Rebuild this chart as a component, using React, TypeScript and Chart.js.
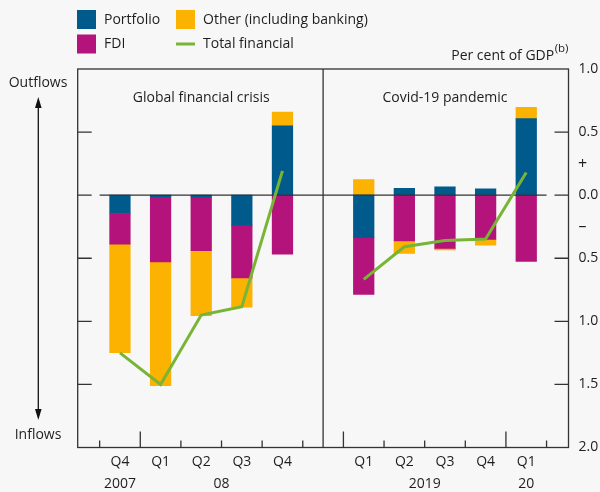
import React, { useEffect, useRef } from "react";
import { Chart, registerables } from "chart.js";

Chart.register(...registerables);

// ---- data ----
const xPositions = [1, 2, 3, 4, 5, 7, 8, 9, 10, 11];
const quarterLabels = ["Q4", "Q1", "Q2", "Q3", "Q4", "Q1", "Q2", "Q3", "Q4", "Q1"];
const yearLabels = ["2007", "08", "2019", "20"];
const yearPositions = [1, 3.5, 8.5, 11];
const portfolio = [-0.145, -0.012, -0.013, -0.238, 0.549, -0.335, 0.055, 0.066, 0.05, 0.607];
const fdi = [-0.243, -0.518, -0.427, -0.417, -0.467, -0.451, -0.362, -0.422, -0.351, -0.525];
const other = [-0.861, -0.98, -0.515, -0.232, 0.11, 0.124, -0.1, -0.011, -0.045, 0.09];
const totalFinancial = [-1.25, -1.5, -0.95, -0.884, 0.193, -0.668, -0.409, -0.359, -0.348, 0.18];
const panelTitles = ["Global financial crisis", "Covid-19 pandemic"];
const panelTitlePositions = [3, 9];
const yTickValues = [1, 0.5, 0, -0.5, -1, -1.5, -2];
const yTickLabels = ["1.0", "0.5", "0.0", "0.5", "1.0", "1.5", "2.0"];
const xMinorTicks = [0.5, 1.5, 2.5, 3.5, 4.5, 5.5, 6.5, 7.5, 8.5, 9.5, 10.5, 11.5];
const xMajorTicks = [1.5, 6.5, 10.5];

const COLORS = {
  portfolio: "#005a8c",
  fdi: "#b4137b",
  other: "#fbb200",
  total: "#78b536",
  text: "#1e1e1e",
  axis: "#333333",
  bg: "#f7f7f7",
};
const FONT = '"Open Sans", "Noto Sans", sans-serif';
const FS = 14;

const toXY = (vals: number[]) => vals.map((v, i) => ({ x: xPositions[i], y: v }));

const overlayPlugin = {
  id: "overlay",
  beforeDraw(chart: any) {
    const ctx = chart.ctx;
    ctx.save();
    ctx.fillStyle = COLORS.bg;
    ctx.fillRect(0, 0, chart.width, chart.height);
    ctx.restore();
  },
  afterDatasetDraw(chart: any, args: any) {
    if (args.index !== 0) return;
    const ctx = chart.ctx;
    const xs = chart.scales.x;
    const ys = chart.scales.y;
    ctx.save();
    ctx.strokeStyle = COLORS.axis;
    ctx.lineWidth = 1.3;
    ctx.beginPath();
    const y0 = ys.getPixelForValue(0);
    ctx.moveTo(xs.getPixelForValue(0.5), y0);
    ctx.lineTo(xs.getPixelForValue(11.5), y0);
    ctx.stroke();
    ctx.restore();
  },
  afterDraw(chart: any) {
    const ctx = chart.ctx;
    const xs = chart.scales.x;
    const ys = chart.scales.y;
    const area = chart.chartArea;
    ctx.save();
    // frame
    ctx.strokeStyle = COLORS.axis;
    ctx.lineWidth = 1.3;
    ctx.strokeRect(area.left, area.top, area.right - area.left, area.bottom - area.top);
    const xDiv = xs.getPixelForValue(6);
    ctx.beginPath();
    ctx.moveTo(xDiv, area.top);
    ctx.lineTo(xDiv, area.bottom);
    ctx.stroke();
    // y ticks (inward)
    ctx.beginPath();
    yTickValues.forEach((v) => {
      if (v === 1 || v === -2) return;
      const y = ys.getPixelForValue(v);
      ctx.moveTo(area.left, y);
      ctx.lineTo(area.left + 14, y);
      ctx.moveTo(area.right, y);
      ctx.lineTo(area.right - 14, y);
    });
    // x ticks
    xMinorTicks.forEach((p) => {
      const x = xs.getPixelForValue(p);
      const len = xMajorTicks.includes(p) ? 16 : 7;
      ctx.moveTo(x, area.bottom);
      ctx.lineTo(x, area.bottom - len);
    });
    ctx.stroke();

    // text
    ctx.fillStyle = COLORS.text;
    ctx.font = `${FS}px ${FONT}`;
    ctx.textBaseline = "middle";
    // right axis labels
    ctx.textAlign = "left";
    yTickValues.forEach((v, i) => {
      ctx.fillText(yTickLabels[i], area.right + 10, ys.getPixelForValue(v));
    });
    ctx.textAlign = "center";
    ctx.font = `16px ${FONT}`;
    ctx.fillText("+", area.right + 14, ys.getPixelForValue(0.24));
    ctx.fillText("–", area.right + 14, ys.getPixelForValue(-0.25));
    ctx.font = `${FS}px ${FONT}`;
    // x labels
    quarterLabels.forEach((q, i) => {
      ctx.fillText(q, xs.getPixelForValue(xPositions[i]), area.bottom + 15);
    });
    yearLabels.forEach((yl, i) => {
      ctx.fillText(yl, xs.getPixelForValue(yearPositions[i]), area.bottom + 37);
    });
    // panel titles
    panelTitles.forEach((t, i) => {
      ctx.fillText(t, xs.getPixelForValue(panelTitlePositions[i]), area.top + 29);
    });
    // units
    ctx.textAlign = "right";
    ctx.font = `11.5px ${FONT}`;
    const supW = ctx.measureText("(b)").width;
    ctx.fillText("(b)", area.right, 49);
    ctx.font = `${FS}px ${FONT}`;
    ctx.fillText("Per cent of GDP", area.right - supW - 0.5, 56);
    // Outflows / Inflows
    ctx.textAlign = "center";
    ctx.fillText("Outflows", 38, 83);
    ctx.fillText("Inflows", 38, 435);
    // arrow
    ctx.strokeStyle = "#111";
    ctx.fillStyle = "#111";
    ctx.lineWidth = 1.3;
    ctx.beginPath();
    ctx.moveTo(38.3, 104);
    ctx.lineTo(38.3, 413);
    ctx.stroke();
    ctx.beginPath();
    ctx.moveTo(38.3, 97);
    ctx.lineTo(35, 108);
    ctx.lineTo(41.6, 108);
    ctx.closePath();
    ctx.fill();
    ctx.beginPath();
    ctx.moveTo(38.3, 420);
    ctx.lineTo(35, 409);
    ctx.lineTo(41.6, 409);
    ctx.closePath();
    ctx.fill();

    // legend
    const legend = [
      { label: "Portfolio", color: COLORS.portfolio, x: 77, y: 10, type: "box" },
      { label: "Other (including banking)", color: COLORS.other, x: 176, y: 10, type: "box" },
      { label: "FDI", color: COLORS.fdi, x: 77, y: 34.5, type: "box" },
      { label: "Total financial", color: COLORS.total, x: 176, y: 34.5, type: "line" },
    ];
    ctx.textAlign = "left";
    ctx.font = `${FS}px ${FONT}`;
    legend.forEach((l) => {
      if (l.type === "box") {
        ctx.fillStyle = l.color;
        ctx.fillRect(l.x, l.y, 19, 19);
      } else {
        ctx.fillStyle = l.color;
        ctx.fillRect(l.x, l.y + 8, 19, 3);
      }
      ctx.fillStyle = COLORS.text;
      ctx.fillText(l.label, l.x + 27, l.y + 10);
    });
    ctx.restore();
  },
};

export default function App() {
  const ref = useRef<HTMLCanvasElement | null>(null);
  useEffect(() => {
    document.body.style.margin = "0";
    document.body.style.background = COLORS.bg;
    if (!ref.current) return;
    const totalData = [
      ...totalFinancial.slice(0, 5).map((v, i) => ({ x: xPositions[i], y: v })),
      { x: 6, y: null as any },
      ...totalFinancial.slice(5).map((v, i) => ({ x: xPositions[i + 5], y: v })),
    ];
    const chart = new Chart(ref.current, {
      type: "bar",
      data: {
        datasets: [
          { label: "Portfolio", data: toXY(portfolio), backgroundColor: COLORS.portfolio, stack: "s", barThickness: 20.6 } as any,
          { label: "FDI", data: toXY(fdi), backgroundColor: COLORS.fdi, stack: "s", barThickness: 20.6 } as any,
          { label: "Other (including banking)", data: toXY(other), backgroundColor: COLORS.other, stack: "s", barThickness: 20.6 } as any,
          {
            type: "line",
            label: "Total financial",
            data: totalData,
            borderColor: COLORS.total,
            borderWidth: 3,
            pointRadius: 0,
            spanGaps: false,
            stack: "total",
            order: -1,
            tension: 0,
          } as any,
        ],
      },
      options: {
        animation: false,
        responsive: false,
        devicePixelRatio: 1,
        layout: { padding: { left: 77.7, right: 31.5, top: 69, bottom: 44.5 } },
        plugins: { legend: { display: false }, tooltip: { enabled: false }, title: { display: false } },
        scales: {
          x: { type: "linear", min: -0.04, max: 12.04, display: false, stacked: true, offset: false },
          y: { min: -2, max: 1, display: false, stacked: true },
        },
      },
      plugins: [overlayPlugin],
    });
    return () => chart.destroy();
  }, []);
  return (
    <div style={{ width: 600, height: 492 }}>
      <canvas ref={ref} width={600} height={492} style={{ display: "block" }} />
    </div>
  );
}
